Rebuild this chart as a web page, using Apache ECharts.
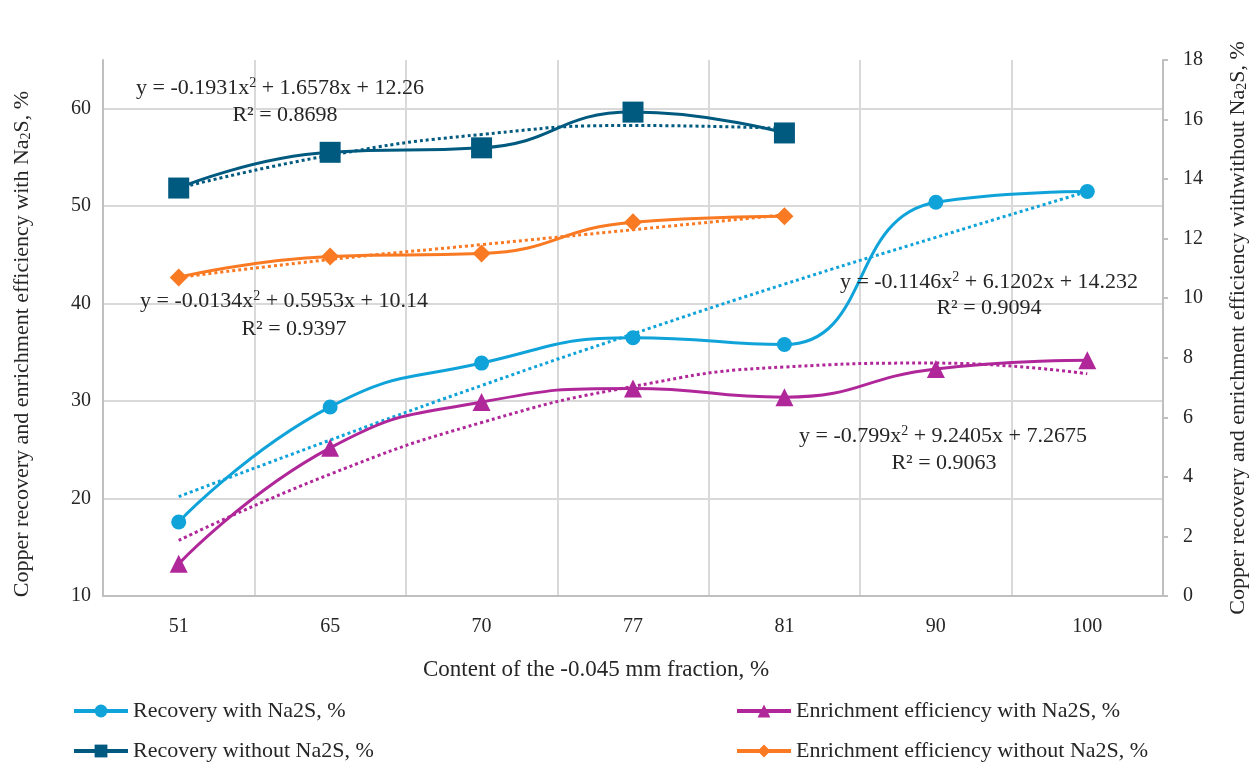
<!DOCTYPE html>
<html><head><meta charset="utf-8">
<script src="https://cdn.jsdelivr.net/npm/echarts@6/dist/echarts.min.js"></script>
<style>html,body{margin:0;padding:0;background:#fff}#chart{width:1257px;height:779px}</style>
</head><body><div id="chart"></div>
<script>
// ---- data ----
const categories = ['51', '65', '70', '77', '81', '90', '100'];
const recoveryWith = [17.6, 29.4, 33.9, 36.5, 35.8, 50.4, 51.5];
const enrichWith = [13.3, 25.2, 29.9, 31.3, 30.4, 33.3, 34.2];
const recoveryWithout = [13.7, 14.9, 15.05, 16.25, 15.55];
const enrichWithout = [10.7, 11.4, 11.5, 12.55, 12.75];
// dotted polynomial trend lines
const trendRecoveryWith = [20.2, 26.0, 31.6, 36.9, 42.0, 46.8, 51.5];
const trendEnrichWith = [15.7, 22.5, 27.8, 31.5, 33.5, 33.9, 32.8];
const trendRecoveryWithout = [13.7, 14.8, 15.5, 15.8, 15.7];
const trendEnrichWithout = [10.7, 11.3, 11.8, 12.3, 12.8];
// axis tick settings
const leftAxisRange = [10, 65, 10];
const rightAxisRange = [0, 18, 2];
const seriesNames = ['Recovery with Na2S, %', 'Enrichment efficiency with Na2S, %',
  'Recovery without Na2S, %', 'Enrichment efficiency without Na2S, %'];
const equations = [
  ['y = -0.1931x{sup|2} + 1.6578x + 12.26', 'R² = 0.8698'],
  ['y = -0.0134x{sup|2} + 0.5953x + 10.14', 'R² = 0.9397'],
  ['y = -0.1146x{sup|2} + 6.1202x + 14.232', 'R² = 0.9094'],
  ['y = -0.799x{sup|2} + 9.2405x + 7.2675', 'R² = 0.9063']
];

const FONT = '"Liberation Serif", "Times New Roman", serif';
const C_LB = '#0fa3da', C_MG = '#b0279a', C_DT = '#005a80', C_OR = '#f97a23';
const GRID = '#d9d9d9', AXIS = '#bfbfbf', TXT = '#262626';
const FS = 20;

const chart = echarts.init(document.getElementById('chart'), null, {renderer: 'canvas'});

function mainSeries(name, data, color, symbol, size, yIdx) {
  return {
    name, type: 'line', data, yAxisIndex: yIdx, smooth: 0.5,
    symbol, symbolSize: size, showSymbol: true,
    lineStyle: {color, width: 3}, itemStyle: {color, borderWidth: 0},
    z: 3, animation: false, emphasis: {disabled: true}
  };
}
function trendSeries(name, data, color, yIdx) {
  return {
    name, type: 'line', data, yAxisIndex: yIdx, smooth: 0.5,
    symbol: 'none', lineStyle: {color, width: 3, type: [3, 3]},
    z: 2, animation: false, emphasis: {disabled: true}, silent: true
  };
}

const eqPos = [
  [[280, 88], [285, 115]],
  [[284, 301], [294, 329]],
  [[989, 282], [989, 308]],
  [[943, 436], [944, 463]]
];
const graphics = [];
equations.forEach((eq, i) => {
  eq.forEach((t, j) => {
    graphics.push({
      type: 'text', x: eqPos[i][j][0], y: eqPos[i][j][1], z: 10,
      style: {
        text: t, fill: TXT, font: '22px ' + FONT,
        align: 'center', verticalAlign: 'middle',
        rich: {sup: {fontSize: 14, fontFamily: FONT, fill: TXT, verticalAlign: 'top', padding: [0, 0, 10, 0]}}
      }
    });
  });
});

const nameRich = {
  sub: {fontSize: 14, fontFamily: FONT, color: TXT, verticalAlign: 'bottom', padding: [8, 0, 0, 0]}
};

const legendCommon = {
  orient: 'vertical', top: 695, itemWidth: 54, itemHeight: 16, itemGap: 18,
  textStyle: {fontFamily: FONT, fontSize: 22, color: TXT}, selectedMode: false,
  lineStyle: {width: 4}
};

const option = {
  backgroundColor: '#ffffff',
  animation: false,
  grid: {left: 103, right: 94, top: 60, bottom: 183, containLabel: false},
  title: {
    text: 'Content of the -0.045 mm fraction, %',
    left: 418, top: 653,
    textStyle: {fontFamily: FONT, fontSize: 23, fontWeight: 'normal', color: TXT}
  },
  legend: [
    Object.assign({data: [seriesNames[0], seriesNames[2]], left: 67}, legendCommon),
    Object.assign({data: [seriesNames[1], seriesNames[3]], left: 730}, legendCommon)
  ],
  xAxis: {
    type: 'category', data: categories, boundaryGap: true,
    axisLine: {show: true, lineStyle: {color: AXIS, width: 2}},
    axisTick: {show: false},
    axisLabel: {fontFamily: FONT, fontSize: FS, color: TXT, margin: 21},
    splitLine: {show: true, lineStyle: {color: GRID, width: 2}}
  },
  yAxis: [
    {
      type: 'value', position: 'left',
      min: leftAxisRange[0], max: leftAxisRange[1], interval: leftAxisRange[2],
      name: 'Copper recovery and enrichment efficiency with Na{sub|2}S, %',
      nameLocation: 'middle', nameRotate: 90, nameGap: 70,
      nameTextStyle: {fontFamily: FONT, fontSize: 22, color: TXT, rich: nameRich, padding: [0, 32, 0, 0]},
      axisLine: {show: true, lineStyle: {color: AXIS, width: 2}},
      axisTick: {show: false},
      axisLabel: {fontFamily: FONT, fontSize: FS, color: TXT, margin: 12, showMaxLabel: false},
      splitLine: {show: true, showMaxLine: false, lineStyle: {color: GRID, width: 2}}
    },
    {
      type: 'value', position: 'right',
      min: rightAxisRange[0], max: rightAxisRange[1], interval: rightAxisRange[2],
      name: 'Copper recovery and enrichment efficiency withwithout Na{sub|2}S, %',
      nameLocation: 'middle', nameRotate: 90, nameGap: 64,
      nameTextStyle: {fontFamily: FONT, fontSize: 22, color: TXT, rich: nameRich},
      axisLine: {show: true, lineStyle: {color: AXIS, width: 2}},
      axisTick: {show: true, length: 5, lineStyle: {color: AXIS, width: 2}},
      axisLabel: {fontFamily: FONT, fontSize: FS, color: TXT, margin: 20},
      splitLine: {show: false}
    }
  ],
  series: [
    trendSeries('trend recovery with', trendRecoveryWith, C_LB, 0),
    trendSeries('trend enrichment with', trendEnrichWith, C_MG, 0),
    trendSeries('trend recovery without', trendRecoveryWithout, C_DT, 1),
    trendSeries('trend enrichment without', trendEnrichWithout, C_OR, 1),
    mainSeries(seriesNames[0], recoveryWith, C_LB, 'circle', 15, 0),
    mainSeries(seriesNames[1], enrichWith, C_MG, 'triangle', 18, 0),
    mainSeries(seriesNames[2], recoveryWithout, C_DT, 'rect', 21, 1),
    mainSeries(seriesNames[3], enrichWithout, C_OR, 'diamond', 18, 1)
  ],
  graphic: graphics
};
chart.setOption(option);
</script>
</body></html>
